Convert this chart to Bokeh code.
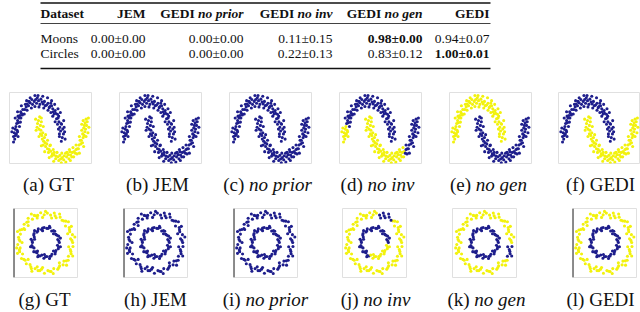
from bokeh.plotting import figure
from bokeh.layouts import row, column
from bokeh.models import Range1d, ColumnDataSource, Span
from bokeh.core.properties import value
from bokeh.embed import file_html
from bokeh.resources import INLINE

# ---------------- table data ----------------
datasets = ["Moons", "Circles"]
method_base = ["JEM", "GEDI", "GEDI", "GEDI", "GEDI"]
method_variant = ["", "no prior", "no inv", "no gen", ""]
moons_mean = [0.00, 0.00, 0.11, 0.98, 0.94]
moons_std = [0.00, 0.00, 0.15, 0.00, 0.07]
circles_mean = [0.00, 0.00, 0.22, 0.83, 1.00]
circles_std = [0.00, 0.00, 0.13, 0.12, 0.01]

# ---------------- panel captions ----------------
moons_letters = ["a", "b", "c", "d", "e", "f"]
circles_letters = ["g", "h", "i", "j", "k", "l"]
panel_names = ["GT", "JEM", "no prior", "no inv", "no gen", "GEDI"]
panel_italic = [False, False, True, True, True, False]

# ---------------- moons points (estimated) ----------------
moon_upper_main_x = [1.00, 0.96, 1.05, 0.93, 1.02, 0.90, 0.97, 0.86, 0.95, 0.82, 0.85, 0.76, 0.72, 0.70, 0.66, 0.60,
                     0.55, 0.62, 0.48, 0.40, 0.45, 0.34, 0.25, 0.29, 0.15, 0.10, 0.06, 0.00, -0.08, -0.05, -0.18,
                     -0.25, -0.28, -0.35, -0.42, -0.40, -0.52, -0.58, -0.55, -0.66, -0.72, -0.68, -0.78, -0.82,
                     -0.86, -0.88, -0.92, -0.85, 0.80, 0.52, 0.20, -0.12, -0.47, -0.75, 1.08, 0.88,
                     1.12, 0.88, 1.10, 0.84, 1.06, 0.80, 0.92, 0.70, 0.82, 0.60, 0.68, 0.52, 0.55, 0.40, 0.38,
                     0.22, 0.18, 0.02, -0.02, -0.15, -0.15, -0.30, -0.35, -0.48, -0.50, -0.60, -0.72, -0.74,
                     -0.88, -0.76, -0.98, -0.80]
moon_upper_main_y = [0.02, -0.08, 0.12, 0.20, 0.25, 0.30, 0.38, 0.45, 0.40, 0.55, 0.60, 0.53, 0.68, 0.75, 0.66, 0.80,
                     0.88, 0.72, 0.86, 0.95, 0.83, 0.90, 1.00, 0.88, 0.98, 1.06, 0.92, 1.02, 0.95, 1.10, 1.00,
                     0.92, 1.05, 0.96, 0.88, 1.00, 0.85, 0.78, 0.92, 0.78, 0.68, 0.63, 0.62, 0.55,
                     0.60, 0.48, 0.40, 0.42, 0.65, 0.95, 0.93, 1.05, 0.93, 0.72, 0.30, 0.12,
                     -0.02, 0.05, 0.18, 0.25, 0.48, 0.38, 0.70, 0.45, 0.80, 0.60, 0.92, 0.70, 1.02, 0.76, 1.10,
                     0.82, 1.14, 0.85, 1.16, 0.86, 1.16, 0.82, 1.10, 0.76, 1.02, 0.66, 0.88, 0.55,
                     0.72, 0.44, 0.55, 0.32]
moon_upper_tail_x = [-0.95, -0.98, -0.90, -1.02, -0.97, -1.05, -1.00, -1.08, -0.93, -1.12, -0.86, -1.05, -0.88]
moon_upper_tail_y = [0.32, 0.25, 0.22, 0.15, 0.08, 0.05, -0.02, 0.28, 0.12, 0.18, 0.05, -0.10, 0.18]
moon_lower_main_x = [0.00, 0.05, -0.04, 0.08, 0.02, 0.10, 0.08, 0.14, 0.18, 0.16, 0.22, 0.25, 0.28, 0.30, 0.35, 0.38,
                     0.45, 0.42, 0.52, 0.58, 0.55, 0.65, 0.74, 0.72, 0.82, 0.90, 0.93, 1.00, 1.08, 1.06, 1.18,
                     1.25, 1.28, 1.35, 1.42, 1.40, 1.50, -0.06, 0.12, 0.20, 0.48, 0.66, 0.85, 1.14, 1.32,
                     -0.12, 0.12, -0.10, 0.20, 0.02, 0.30, 0.12, 0.38, 0.26, 0.50, 0.45, 0.62, 0.64, 0.78,
                     0.96, 0.98, 1.15, 1.20, 1.34, 1.30, 1.48, 1.45]
moon_lower_main_y = [0.48, 0.58, 0.40, 0.35, 0.25, 0.22, 0.12, 0.08, 0.15, -0.02, -0.08, 0.02, -0.12, -0.22, -0.15,
                     -0.28, -0.30, -0.38, -0.35, -0.42, -0.48, -0.45, -0.48, -0.55, -0.50, -0.46, -0.56, -0.52,
                     -0.47, -0.58, -0.50, -0.44, -0.55, -0.45, -0.38, -0.50, -0.36, 0.30, 0.45, -0.18, -0.20,
                     -0.38, -0.60, -0.40, -0.36,
                     0.52, 0.55, 0.22, 0.32, 0.05, 0.10, -0.20, -0.05, -0.36, -0.18, -0.52, -0.30, -0.62, -0.38,
                     -0.66, -0.40, -0.64, -0.38, -0.60, -0.30, -0.50, -0.25]
moon_lower_arm_x = [1.58, 1.55, 1.63, 1.70, 1.68, 1.78, 1.80, 1.85, 1.88, 1.92, 1.86, 1.95, 1.98, 1.90, 2.02, 1.96,
                    2.05, 2.00, 1.75, 2.08, 1.93, 1.62, 1.72, 1.58, 1.90, 1.72, 2.12, 1.82, 2.10, 1.88, 2.00, 1.82]
moon_lower_arm_y = [-0.30, -0.40, -0.28, -0.18, -0.28, -0.15, -0.05, -0.12, 0.02, 0.08, 0.12, 0.18, 0.25, 0.28, 0.35,
                    0.42, 0.45, 0.52, -0.05, 0.15, 0.35, -0.42, -0.40, -0.18, -0.22, 0.05, 0.30, 0.22, 0.55, 0.48,
                    0.05, 0.38]

# class per panel (0 = dark blue, 1 = yellow), panels a..f
moon_upper_main_lab = [0, 0, 0, 0, 1, 0]
moon_upper_tail_lab = [0, 0, 0, 1, 1, 0]
moon_lower_main_lab = [1, 0, 0, 1, 0, 1]
moon_lower_arm_lab = [1, 0, 0, 0, 0, 1]

# ---------------- circles points (estimated) ----------------
circ_outer_main_x = [1.02, 0.94, 1.01, 0.91, 0.89, 0.75, 0.76, 0.07, -0.05, -0.18, -0.29, -0.42, -0.49, -0.65, -0.70,
                     -0.80, -0.81, -0.96, -0.94, -1.01, -0.96, -1.04, -0.95, -0.97, -0.86, -0.90, -0.76, -0.72,
                     -0.58, -0.53, -0.39, -0.28, -0.15, -0.04, 0.09, 0.21, 0.31, 0.46, 0.53, 0.66, 0.69, 0.85,
                     0.99, 0.90, 0.68, 0.00, -0.36, -0.65, -0.89, -0.99, -0.98, -0.81, -0.55, -0.21, 0.16,
                     0.50, 0.78,
                     1.10, 0.83, 0.86, -0.11, -0.53, -0.65, -1.05, -0.88, -1.05, -0.65, -0.51, -0.11, 0.29,
                     0.52, 0.79, -1.08, -0.78, 0.97, -0.31, -0.31]
circ_outer_main_y = [0.00, 0.13, 0.27, 0.37, 0.52, 0.57, 0.74, 1.02, 0.96, 1.03, 0.94, 0.94, 0.81, 0.84, 0.70,
                     0.63, 0.48, 0.43, 0.29, 0.18, 0.05, -0.07, -0.19, -0.32, -0.40, -0.56, -0.62, -0.74,
                     -0.77, -0.91, -0.91, -0.98, -0.93, -1.07, -0.98, -1.01, -0.91, -0.93, -0.81, -0.78, -0.65,
                     -0.62, 0.07, 0.44, 0.75, 1.08, 0.93, 0.72, 0.45, 0.10, -0.26, -0.59, -0.85, -0.98, -1.00,
                     -0.87, -0.64,
                     0.19, 0.30, 0.72, 0.87, 0.99, 0.59, 0.38, 0.00, -0.38, -0.59, -1.00, -0.87, -1.08,
                     -0.71, -0.79, -0.19, 0.45, 0.56, 0.85, -0.85]
circ_outer_top_x = [0.62, 0.55, 0.40, 0.36, 0.33, 0.19, 0.53, 0.23]
circ_outer_top_y = [0.77, 0.88, 0.86, 0.93, 1.02, 0.95, 0.99, 0.85]
circ_outer_right_x = [0.86, 0.96, 0.95, 0.93, 1.03, 1.02, 0.87]
circ_outer_right_y = [-0.48, -0.39, -0.31, -0.25, -0.14, -0.47, -0.15]
circ_inner_main_x = [0.52, 0.46, 0.49, 0.39, 0.35, 0.23, 0.17, 0.05, -0.05, -0.15, -0.27, -0.32, -0.43, -0.42,
                     -0.54, -0.49, -0.51, -0.43, -0.44, -0.32, -0.27, 0.50, 0.43, 0.30, 0.10, -0.11, -0.29,
                     -0.44, -0.50, -0.49, -0.37, -0.21, 0.56, 0.30, 0.15, -0.11, -0.41, -0.41, -0.56, -0.30,
                     -0.29]
circ_inner_main_y = [0.00, 0.10, 0.22, 0.28, 0.39, 0.40, 0.52, 0.49, 0.52, 0.45, 0.47, 0.36, 0.31, 0.19,
                     0.11, 0.00, -0.11, -0.19, -0.32, -0.36, -0.46, 0.05, 0.25, 0.41, 0.49, 0.50, 0.40,
                     0.26, 0.05, -0.16, -0.33, -0.47, 0.15, 0.30, 0.56, 0.41, 0.41, 0.11, -0.15, -0.30,
                     -0.50]
circ_inner_lower_x = [-0.14, -0.06, 0.05, 0.16, 0.24, 0.36, 0.39, 0.48, 0.45, 0.00, 0.21, 0.37, 0.49,
                      -0.04, 0.15, 0.30, 0.56]
circ_inner_lower_y = [-0.44, -0.55, -0.49, -0.49, -0.41, -0.40, -0.28, -0.22, -0.10, -0.50, -0.47, -0.33, -0.16,
                      -0.42, -0.56, -0.30, -0.15]

# class per panel, panels g..l
circ_outer_main_lab = [1, 0, 0, 1, 1, 1]
circ_outer_top_lab = [1, 0, 0, 0, 1, 1]
circ_outer_right_lab = [1, 0, 0, 1, 0, 1]
circ_inner_main_lab = [0, 0, 0, 0, 0, 0]
circ_inner_lower_lab = [0, 0, 0, 1, 0, 0]

# ---------------- styling / layout ----------------
BLUE = "#1e1e8c"
YELLOW = "#f2f20e"
PAL = [BLUE, YELLOW]
SERIF = "Liberation Serif"
TOTAL_W = 640
col_widths = [110, 110, 110, 110, 110, 90]
moons_left = [9, 9, 9, 9, 9, 8]
circ_left = [13, 13, 13, 12, 12, 22]
circ_spine = [True, True, True, False, False, True]

REG_W = {'(': 0.333, ')': 0.333, ' ': 0.25, 'a': 0.444, 'b': 0.5, 'c': 0.444, 'd': 0.5, 'e': 0.444,
         'f': 0.333, 'g': 0.5, 'h': 0.5, 'i': 0.278, 'j': 0.278, 'k': 0.5, 'l': 0.278}
IT_W = {'n': 0.5, 'o': 0.5, ' ': 0.25, 'p': 0.5, 'r': 0.389, 'i': 0.278, 'v': 0.444, 'g': 0.5, 'e': 0.444}
BI_W = {'n': 0.556, 'o': 0.5, ' ': 0.25, 'p': 0.5, 'r': 0.389, 'i': 0.278, 'v': 0.444, 'g': 0.5, 'e': 0.444}


def twidth(s, table, size):
    return sum(table.get(c, 0.5) for c in s) * size


def blank_fig(w, h):
    p = figure(width=w, height=h, x_range=Range1d(0, w), y_range=Range1d(h, 0),
               toolbar_location=None, output_backend="svg",
               x_axis_location=None, y_axis_location=None, min_border=0,
               min_border_left=0, min_border_right=0, min_border_top=0, min_border_bottom=0)
    p.outline_line_color = None
    p.grid.visible = False
    p.background_fill_color = "white"
    p.border_fill_color = "white"
    return p


def txt(p, x, y, s, size, style="normal", align="left"):
    p.text(x=[x], y=[y], text=[s], text_font=value(SERIF), text_font_size=value(f"{size}px"),
           text_font_style=style, text_align=align, text_baseline="middle", text_color="#111111")


# ---------------- table ----------------
TH = 72
tbl = blank_fig(TOTAL_W, TH)
x_left = 40
col_right = [145, 243, 332, 422, 489]
rule_y = [2.5, 23, 68]
rule_w = [1.7, 0.8, 1.7]
for ry, rw in zip(rule_y, rule_w):
    tbl.segment(x0=[x_left], y0=[ry], x1=[490], y1=[ry], line_color="#111111", line_width=rw)
FS = 13.5
header_y = 12.5
row_y = [37.5, 52.5]
txt(tbl, x_left, header_y, "Dataset", FS, "bold")
for base, var, xr in zip(method_base, method_variant, col_right):
    if var:
        txt(tbl, xr, header_y, var, FS, "bold italic", "right")
        txt(tbl, xr - twidth(var, BI_W, FS) - 0.25 * FS, header_y, base, FS, "bold", "right")
    else:
        txt(tbl, xr, header_y, base, FS, "bold", "right")
for name, means, stds, yy in zip(datasets, [moons_mean, circles_mean], [moons_std, circles_std], row_y):
    txt(tbl, x_left, yy, name, FS)
    best = max(means)
    for m, s, xr in zip(means, stds, col_right):
        txt(tbl, xr, yy, f"{m:.2f}\u00b1{s:.2f}", FS, "bold" if m == best else "normal", "right")


# ---------------- scatter panels ----------------
def panel(w, h, left, frame_w, top, bottom, xr, yr, groups, k, spine):
    p = figure(width=w, height=h, x_range=Range1d(*xr), y_range=Range1d(*yr),
               toolbar_location=None, output_backend="svg",
               x_axis_location=None, y_axis_location=None,
               min_border_left=left, min_border_right=w - left - frame_w,
               min_border_top=top, min_border_bottom=bottom)
    p.outline_line_color = "#e0e0e0"
    p.grid.visible = False
    p.background_fill_color = "white"
    p.border_fill_color = "white"
    xs, ys, cs = [], [], []
    for gx, gy, lab in groups:
        xs += gx
        ys += gy
        cs += [PAL[lab[k]]] * len(gx)
    src = ColumnDataSource(dict(x=xs, y=ys, c=cs))
    p.scatter(x="x", y="y", color="c", size=3.1, line_width=0, source=src)
    if spine:
        p.add_layout(Span(location=xr[0], dimension="height", line_color="#3a3a3a", line_width=2.2))
    return p


moon_groups = [
    (moon_upper_main_x, moon_upper_main_y, moon_upper_main_lab),
    (moon_lower_main_x, moon_lower_main_y, moon_lower_main_lab),
    (moon_upper_tail_x, moon_upper_tail_y, moon_upper_tail_lab),
    (moon_lower_arm_x, moon_lower_arm_y, moon_lower_arm_lab),
]
circ_groups = [
    (circ_outer_main_x, circ_outer_main_y, circ_outer_main_lab),
    (circ_inner_main_x, circ_inner_main_y, circ_inner_main_lab),
    (circ_outer_top_x, circ_outer_top_y, circ_outer_top_lab),
    (circ_outer_right_x, circ_outer_right_y, circ_outer_right_lab),
    (circ_inner_lower_x, circ_inner_lower_y, circ_inner_lower_lab),
]

MOON_H = 96
moon_figs = [panel(col_widths[k], MOON_H, moons_left[k], 82, 20, 5, (-1.22, 2.23), (-0.68, 1.24),
                   moon_groups, k, False) for k in range(6)]
CIRC_H = 84
circ_figs = [panel(col_widths[k], CIRC_H, circ_left[k], 64, 10, 5, (-1.2, 1.2), (-1.22, 1.18),
                   circ_groups, k, circ_spine[k]) for k in range(6)]


# ---------------- captions ----------------
def caption_fig(h, yc, centers, letters):
    p = blank_fig(TOTAL_W, h)
    CS = 19
    for cx, let, name, ital in zip(centers, letters, panel_names, panel_italic):
        if ital:
            pre = f"({let}) "
            w_pre = twidth(pre, REG_W, CS)
            w_it = twidth(name, IT_W, CS)
            x0 = cx - (w_pre + w_it) / 2
            txt(p, x0, yc, pre, CS)
            txt(p, x0 + w_pre, yc, name, CS, "italic")
        else:
            txt(p, cx, yc, f"({let}) {name}", CS, "normal", "center")
    return p


moon_caps = caption_fig(30, 16, [48, 157, 267, 377, 488, 600], moons_letters)
circ_caps = caption_fig(30, 17, [44, 155, 265, 375, 486, 600], circles_letters)

layout = column(tbl, row(*moon_figs, spacing=0), moon_caps, row(*circ_figs, spacing=0), circ_caps, spacing=0)

open("out.html", "w").write(file_html(layout, INLINE))
